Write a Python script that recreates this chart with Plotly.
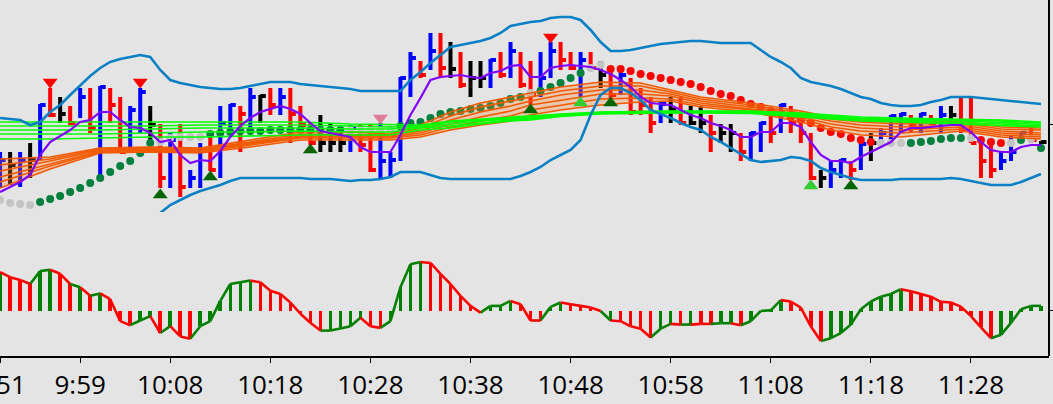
import plotly.graph_objects as go

# ---------------- data (x = 1-minute bar number counted from 9:51) ----------------
tick_idx = [0, 8, 17, 27, 37, 47, 57, 67, 77, 87, 97]
tick_text = ["9:51", "9:59", "10:08", "10:18", "10:28", "10:38", "10:48",
             "10:58", "11:08", "11:18", "11:28"]

# bar state: B = up (blue), R = down (red), K = neutral (black)
bar_state = ("BKBKBRKRBR" "BRRBBKRBRB" "BRBBRBKRBR" "RRKKKBRRBB" "BBRBRKRKKB"
             "RBRRBBRRBR" "KRBRRRBKRK" "KRKKRBBRBR" "RRKBBRBKBB" "BRBRBKRRRR" "BBBRK")

highs = [98, 98, 98, 107, 146, 162, 153, 144, 162, 162,
         164, 162, 153, 144, 162, 144, 126, 118, 126, 80,
         107, 117, 144, 146, 144, 162, 155, 162, 162, 162,
         144, 127, 135, 126, 120, 125, 126, 126, 127, 98,
         173, 198, 189, 217, 217, 208, 198, 189, 189, 191,
         198, 208, 198, 189, 198, 208, 208, 198, 198, 198,
         189, 180, 180, 172, 162, 153, 148, 153, 153, 144,
         144, 135, 126, 126, 117, 118, 128, 135, 146, 144,
         126, 117, 80, 89, 91, 89, 107, 117, 122, 135,
         137, 135, 137, 135, 144, 144, 152, 153, 112, 110,
         98, 115, 118, 125, 109]

lows = [62, 65, 63, 72, 90, 133, 127, 125, 132, 117,
        72, 127, 97, 103, 117, 105, 62, 62, 53, 62,
        62, 79, 72, 115, 98, 120, 127, 135, 135, 107,
        117, 105, 98, 98, 98, 98, 98, 78, 71, 72,
        89, 153, 172, 180, 172, 172, 162, 153, 162, 162,
        172, 172, 162, 145, 153, 172, 180, 180, 153, 180,
        162, 152, 155, 135, 135, 117, 127, 127, 125, 125,
        117, 98, 107, 98, 89, 89, 98, 107, 117, 117,
        107, 70, 62, 62, 72, 70, 80, 89, 107, 107,
        117, 117, 117, 125, 117, 127, 117, 107, 72, 72,
        80, 89, 107, 107, 106]

closes = [90, 85, 90, 90, 145, 135, 136, 127, 153, 122,
          163, 145, 98, 140, 158, 125, 72, 110, 63, 72,
          100, 80, 127, 145, 136, 153, 154, 145, 153, 136,
          125, 107, 107, 107, 107, 122, 105, 80, 89, 90,
          172, 192, 175, 199, 182, 181, 165, 172, 172, 190,
          175, 199, 165, 155, 172, 199, 190, 182, 190, 182,
          175, 155, 175, 138, 145, 127, 146, 140, 127, 127,
          127, 117, 117, 117, 98, 117, 127, 117, 145, 127,
          117, 72, 72, 80, 90, 80, 106, 107, 117, 134,
          136, 125, 136, 127, 135, 135, 120, 107, 89, 80,
          89, 98, 117, 110, 108]

bb_upper = [132, 131, 130, 125, 128, 138, 145, 155, 165, 174,
            182, 188, 191, 193, 195, 193, 180, 170, 167, 165,
            163, 162, 161, 161, 162, 164, 166, 168, 168, 168,
            166, 165, 164, 163, 162, 161, 159, 159, 159, 159,
            159, 170, 178, 187, 195, 203, 205, 207, 209, 212,
            217, 224, 226, 228, 229, 232, 233, 233, 230, 220,
            208, 199, 199, 200, 202, 204, 206, 207, 208, 209,
            209, 208, 207, 207, 207, 207, 200, 193, 188, 182,
            172, 168, 166, 164, 161, 157, 153, 151, 147, 145,
            144, 144, 145, 148, 150, 153, 153, 153, 152, 151,
            150, 149, 148, 147, 146]

bb_lower = [18, 16, 14, 12, 10, 8, 6, 5, 5, 6,
            8, 10, 14, 18, 24, 30, 37, 45, 50, 55,
            59, 62, 65, 69, 72, 72, 72, 72, 72, 72,
            72, 71, 71, 71, 70, 69, 70, 70, 71, 73,
            78, 78, 78, 75, 72, 71, 71, 71, 71, 71,
            71, 71, 74, 78, 83, 90, 95, 100, 110, 135,
            155, 162, 162, 157, 150, 140, 136, 132, 127, 123,
            120, 113, 108, 102, 96, 90, 88, 89, 90, 93,
            92, 89, 82, 78, 75, 72, 70, 70, 70, 70,
            71, 71, 71, 71, 71, 72, 71, 69, 67, 65,
            65, 65, 68, 72, 76]

fast_ma = [58, 63, 68, 75, 95, 108, 114, 120, 128, 130,
           138, 138, 130, 123, 122, 117, 108, 110, 95, 87,
           90, 89, 99, 113, 124, 132, 138, 141, 144, 141,
           136, 127, 119, 117, 115, 113, 103, 98, 98, 98,
           115, 135, 152, 170, 173, 174, 175, 173, 172, 177,
           179, 184, 185, 173, 173, 182, 184, 185, 184, 183,
           180, 176, 170, 163, 153, 147, 146, 145, 140, 135,
           132, 127, 124, 120, 113, 113, 118, 118, 127, 127,
           123, 108, 95, 89, 89, 87, 93, 98, 103, 108,
           118, 122, 122, 123, 124, 125, 125, 118, 108, 100,
           98, 98, 103, 105, 105]

# parabolic SAR: value and state (G = long, R = short, N = neutral)
sar = [50, 47, 46, 45, 48, 51, 54, 58, 62, 67,
       72, 78, 84, 89, 97, 107, 108, 112, 113, 113,
       113, 116, 117, 118, 119, 119, 119, 120, 120, 120,
       120, 120, 120, 120, 120, 120, 120, 120, 120, 121,
       124, 127, 128, 132, 136, 138, 139, 141, 142, 144,
       147, 151, 153, 157, 159, 163, 167, 172, 177, 182,
       185, 181, 181, 179, 176, 174, 172, 170, 168, 166,
       163, 159, 156, 154, 150, 146, 143, 139, 136, 133,
       130, 127, 122, 118, 116, 112, 110, 108, 107, 107,
       107, 107, 108, 109, 111, 112, 112, 112, 110, 108,
       107, 107, 110, 111, 102]
sar_state = ("NNNNGGGGGG" "GGGGGGNNNN" "NGGGGGGGGG" "GGGGGNNNNN" "GGGGGGGGGG"
             "GGGNGGGGGN" "NRRRRRRRRR" "RRRRRRRRRR" "RRRRRRRRNN" "NGGGGGGNRR" "RNGNG")

# multiple moving-average ribbons, read at these bar numbers
rib_x = [0, 5, 10, 15, 20, 25, 30, 35, 39, 42, 45, 48, 51, 53, 56, 60, 64, 67, 70,
         75, 80, 83, 86, 90, 96, 100, 104]
short_1 = [91, 93, 102, 103, 102, 110, 118, 118, 116, 125, 138, 147, 153, 157, 163, 168, 167, 160, 153,
           147, 139, 133, 130, 128, 129, 123, 122]
short_2 = [85, 91, 101, 102, 101, 108, 116, 115, 115, 122, 134, 143, 149, 153, 159, 164, 164, 158, 151,
           145, 137, 131, 128, 126, 127, 121, 120]
short_3 = [79, 89, 100, 101, 100, 107, 114, 114, 114, 119, 130, 138, 144, 149, 155, 160, 160, 156, 149,
           143, 135, 129, 125, 123, 125, 119, 117]
short_4 = [73, 86, 99, 100, 99, 106, 113, 113, 113, 117, 126, 133, 139, 145, 150, 156, 156, 154, 147,
           141, 133, 126, 122, 120, 123, 117, 115]
short_5 = [68, 84, 98, 99, 98, 105, 112, 112, 112, 115, 123, 129, 134, 140, 145, 151, 152, 151, 145,
           140, 131, 123, 119, 117, 121, 115, 113]
short_6 = [62, 81, 97, 98, 97, 103, 110, 110, 110, 113, 120, 125, 129, 135, 140, 145, 148, 149, 143,
           138, 128, 120, 115, 113, 119, 113, 111]
long_1 = [128, 128, 128, 128, 128, 128, 128, 126, 125, 125, 129, 131, 133, 134, 136, 138, 139, 139, 139,
          139, 137, 135, 133, 132, 131, 130, 128]
long_2 = [124, 124, 124, 124, 125, 125, 125, 124, 123, 124, 128, 130, 132, 133, 135.5, 137.5, 138.5, 138.5, 138.5,
          138.5, 136, 134, 132, 131, 130, 129, 127]
long_3 = [120, 120, 120, 121, 122, 122, 122, 121, 121, 123, 126, 129, 131, 132, 135, 137, 138, 138, 138,
          138, 135, 133, 131, 130, 129, 127.5, 125.5]
long_4 = [116, 116, 116, 117, 118, 118, 119, 118, 118, 122, 124, 127, 130, 131, 134, 136.5, 137.5, 137.5, 137.5,
          137, 134, 132, 130, 129, 127.5, 126, 124]
long_5 = [111, 111, 112, 113, 113, 114, 115, 115, 115, 120, 122, 126, 129, 130, 133.5, 136, 137, 137, 137,
          136.5, 133, 131, 129, 128, 126, 124.5, 123]

# signal triangles
sell_idx, sell_val = [5, 14, 55], [168, 168, 213]
weak_sell_idx, weak_sell_val = [38], [132]
buy_idx, buy_val = [16, 21, 31, 53, 61, 85], [55, 73, 100, 140, 147, 64]
weak_buy_idx, weak_buy_val = [58, 81], [147, 64]

# oscillator histogram (lower pane) and its colour state
osc = [38.9, 33.8, 31.1, 27.0, 39.9, 41.2, 37.2, 27.0, 23.7, 15.2,
       17.6, 11.8, -10.1, -14.2, -9.5, -5.1, -22.0, -15.2, -25.4, -27.7,
       -15.2, -10.1, 10.1, 27.0, 28.7, 30.4, 28.7, 20.3, 16.9, 8.5,
       -2.7, -11.8, -19.6, -19.6, -17.6, -15.2, -6.8, -15.2, -16.9, -10.1,
       23.7, 46.7, 49.0, 48.0, 37.2, 27.0, 15.2, 5.1, -1.7, 5.1,
       5.1, 10.1, 6.8, -9.5, -9.5, 4.1, 8.5, 6.8, 5.1, 3.4,
       0.0, -9.5, -10.2, -15.3, -17.7, -26.5, -17.7, -12.9, -13.6, -13.6,
       -12.9, -12.9, -12.2, -12.2, -14.3, -10.2, 0.0, 0.7, 10.9, 9.5,
       3.4, -15.3, -29.9, -27.2, -22.1, -13.6, 1.7, 9.5, 14.3, 17.0,
       21.8, 19.7, 17.0, 14.3, 9.2, 8.5, 4.4, -5.1, -16.3, -27.2,
       -23.8, -11.9, 1.7, 5.1, 5.1]
osc_state = ("GRRRGGRRGR" "GRRRGGRGRR" "GGGGGGRRRR" "RRRGGGGRRG" "GGGRRRRRRG"
             "GGRRRGGRRR" "RGRRRRGGRG" "RRGGRGGGGR" "RRRGGGGGGG" "GRRRRRRRRR" "GGGGG")

# ---------------- figure ----------------
n = len(highs)
idx = list(range(n))
BAR_COL = {"B": "#0000ff", "R": "#ff0000", "K": "#000000"}
SAR_COL = {"G": "#00803f", "R": "#ff0000", "N": "#c4c4c4"}
OSC_COL = {"G": "#008000", "R": "#ff0000"}

fig = go.Figure()

# HLC bars (vertical high-low line + close tick on the right)
for code, col in BAR_COL.items():
    xs, ys = [], []
    for i in idx:
        if bar_state[i] != code:
            continue
        xs += [i, i, None, i, i + 0.55, None]
        ys += [highs[i], lows[i], None, closes[i], closes[i], None]
    fig.add_trace(go.Scatter(x=xs, y=ys, mode="lines", line=dict(color=col, width=4),
                             hoverinfo="skip", showlegend=False, yaxis="y"))

# SAR dots
fig.add_trace(go.Scatter(x=idx, y=sar, mode="markers",
                         marker=dict(size=8, color=[SAR_COL[s] for s in sar_state], line=dict(width=0)),
                         hoverinfo="skip", showlegend=False, yaxis="y"))

# short-term ribbon
for k, line in enumerate([short_1, short_2, short_3, short_4, short_5, short_6]):
    fig.add_trace(go.Scatter(x=rib_x, y=line, mode="lines",
                             line=dict(color="#f25a00", width=1.6),
                             fill=None if k == 0 else "tonexty",
                             fillcolor="rgba(255,125,40,0.28)",
                             hoverinfo="skip", showlegend=False, yaxis="y"))

# long-term ribbon
for line in [long_1, long_2, long_3, long_4, long_5]:
    fig.add_trace(go.Scatter(x=rib_x, y=line, mode="lines",
                             line=dict(color="#00ff00", width=1.6),
                             hoverinfo="skip", showlegend=False, yaxis="y"))

# Bollinger bands
for band in [bb_upper, bb_lower]:
    fig.add_trace(go.Scatter(x=idx, y=band, mode="lines",
                             line=dict(color="#0a80c4", width=2.6),
                             hoverinfo="skip", showlegend=False, yaxis="y"))

# fast moving average
fig.add_trace(go.Scatter(x=idx, y=fast_ma, mode="lines", line=dict(color="#8000ff", width=2.2),
                         hoverinfo="skip", showlegend=False, yaxis="y"))

# signal triangles
for xs, ys, sym, col in [(sell_idx, sell_val, "triangle-down", "#ff0000"),
                         (weak_sell_idx, weak_sell_val, "triangle-down", "#e07b98"),
                         (buy_idx, buy_val, "triangle-up", "#006400"),
                         (weak_buy_idx, weak_buy_val, "triangle-up", "#33cc33")]:
    fig.add_trace(go.Scatter(x=xs, y=ys, mode="markers",
                             marker=dict(symbol=sym, size=13, color=col, line=dict(width=0)),
                             hoverinfo="skip", showlegend=False, yaxis="y"))

# oscillator histogram
fig.add_trace(go.Bar(x=idx, y=osc, width=0.36,
                     marker=dict(color=[OSC_COL[s] for s in osc_state], line=dict(width=0)),
                     hoverinfo="skip", showlegend=False, yaxis="y2"))
for code, col in OSC_COL.items():
    xs, ys = [], []
    for i in idx[1:]:
        if osc_state[i] == code:
            xs += [i - 1, i, None]
            ys += [osc[i - 1], osc[i], None]
    fig.add_trace(go.Scatter(x=xs, y=ys, mode="lines", line=dict(color=col, width=2.6),
                             hoverinfo="skip", showlegend=False, yaxis="y2"))

BG = "#e4e4e4"
fig.update_layout(
    width=1053, height=404,
    margin=dict(l=0, r=4, t=0, b=48),
    paper_bgcolor=BG, plot_bgcolor=BG,
    template="none",
    bargap=0,
    xaxis=dict(range=[-0.01, 104.8], anchor="y2", showgrid=False, zeroline=False,
               showline=True, linecolor="#000000", linewidth=1.5,
               ticks="outside", ticklen=5, tickwidth=1.2, tickcolor="#000000",
               tickvals=tick_idx, ticktext=tick_text, automargin=False,
               ticklabeloverflow="allow",
               tickfont=dict(family="Open Sans", size=26, color="#000000")),
    yaxis=dict(domain=[0.4045, 1], range=[38, 250], side="right", anchor="x",
               showgrid=False, zeroline=False, showline=False, showticklabels=False,
               ticks="outside", ticklen=5, tickcolor="#000000", tickvals=[126], automargin=False),
    yaxis2=dict(domain=[0, 0.3596], range=[-45, 83], side="right", anchor="x",
                showgrid=False, zeroline=False, showline=False, showticklabels=False,
                ticks="outside", ticklen=5, tickcolor="#000000", tickvals=[0], automargin=False),
    shapes=[dict(type="line", xref="paper", yref="paper", x0=1, x1=1, y0=0, y1=1,
                 line=dict(color="#000000", width=2))],
)

fig.write_html("out.html", config={"displayModeBar": False},
               post_script="document.body.style.margin='0';document.body.style.overflow='hidden';")
